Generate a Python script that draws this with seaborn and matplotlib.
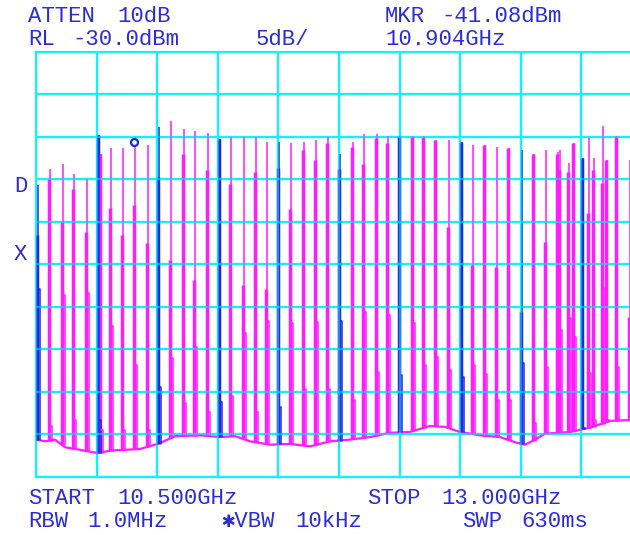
import numpy as np
import pandas as pd
import matplotlib
matplotlib.use("Agg")
import matplotlib.pyplot as plt
import seaborn as sns

start_ghz, stop_ghz = 10.5, 13.0
ref_level_dbm, db_per_div = -30.0, 5.0
mkr_ghz, mkr_dbm = 10.904, -41.08

# noise floor of the trace
floor_ghz = [10.500, 10.537, 10.578, 10.620, 10.682, 10.756, 10.805, 10.867, 10.929,
             10.991, 11.012, 11.073, 11.177, 11.259, 11.321, 11.383, 11.465, 11.548,
             11.630, 11.713, 11.795, 11.878, 11.960, 12.043, 12.125, 12.187, 12.249,
             12.332, 12.414, 12.476, 12.517, 12.559, 12.600, 12.703, 12.785, 12.868,
             12.950, 13.000]
floor_dbm = [-75.6, -75.8, -75.6, -76.5, -76.8, -77.2, -76.9, -76.8, -76.7,
             -76.2, -76.0, -75.2, -75.1, -75.3, -75.2, -75.8, -76.2, -76.1,
             -76.4, -75.8, -75.6, -75.3, -74.8, -74.7, -74.0, -74.1, -74.7,
             -75.1, -75.3, -75.9, -76.2, -75.6, -74.9, -74.7, -74.2, -73.4,
             -73.3, -73.3]

# comb lines
spike_ghz = [10.504, 10.554, 10.607, 10.653, 10.706, 10.756, 10.764, 10.805, 10.855, 10.904,
             10.958, 11.003, 11.053, 11.106, 11.152, 11.205, 11.255, 11.300, 11.354, 11.403,
             11.449, 11.498, 11.548, 11.601, 11.651, 11.700, 11.750, 11.804, 11.849, 11.903,
             11.948, 11.998, 12.051, 12.097, 12.146, 12.200, 12.253, 12.299, 12.348, 12.398,
             12.447, 12.501, 12.550, 12.600, 12.649, 12.658, 12.695, 12.715, 12.752, 12.777,
             12.798, 12.835, 12.852, 12.893, 12.946]
peak_dbm = [-45.6, -43.8, -43.2, -44.4, -44.9, -39.8, -42.0, -41.3, -41.3, -41.08,
            -40.9, -38.8, -38.1, -39.1, -39.3, -39.5, -40.2, -40.0, -40.0, -40.0,
            -40.6, -40.6, -40.7, -40.6, -40.4, -40.0, -42.0, -40.6, -39.6, -39.6,
            -39.9, -39.9, -39.9, -39.9, -40.4, -40.4, -40.6, -40.9, -40.9, -41.2,
            -41.3, -41.5, -42.0, -41.5, -41.8, -41.5, -43.1, -40.7, -42.5, -40.1,
            -42.5, -38.7, -42.7, -39.9, -42.7]
bar_dbm = [-51.5, -44.9, -49.9, -46.1, -51.2, -39.8, -42.0, -48.4, -51.5, -48.0,
           -52.5, -44.7, -54.5, -42.0, -56.8, -43.9, -40.2, -45.5, -57.4, -44.1,
           -57.9, -43.6, -48.5, -41.5, -42.7, -40.7, -43.8, -41.2, -43.2, -40.1,
           -40.7, -39.9, -39.9, -40.0, -40.4, -50.6, -40.6, -55.1, -40.9, -55.3,
           -41.3, -60.6, -42.0, -52.4, -42.0, -43.9, -44.1, -40.7, -42.5, -48.9,
           -43.9, -45.4, -42.7, -39.9, -61.2]
shoulder_dbm = [-57.9, -74.0, -58.6, -73.3, -58.4, -73.3, -74.5, -62.2, -74.5, -66.8,
                -74.5, -69.4, -66.0, -71.3, -64.7, -72.4, -71.2, -70.5, -63.1, -72.4,
                -61.6, -71.8, -61.9, -69.6, -61.8, -69.6, -61.6, -70.9, -60.6, -67.6,
                -60.9, -68.0, -61.9, -66.8, -65.9, -67.4, -68.2, -66.8, -67.9, -70.9,
                -70.9, -66.6, -73.6, -67.1, -63.9, -62.7, -61.3, -63.5, -74.2, -67.8,
                -73.3, -57.8, -73.3, -67.1, -73.3]

# screen annotations: (text, left px, baseline px)
labels = [("ATTEN", 28, 22), ("10dB", 117, 22), ("MKR", 385, 22), ("-41.08dBm", 441, 22),
          ("RL", 28, 45), ("-30.0dBm", 72, 45), ("5dB/", 256, 45), ("10.904GHz", 385, 45),
          ("START", 28, 504), ("10.500GHz", 117, 504), ("STOP", 367, 504), ("13.000GHz", 441, 504),
          ("RBW", 28, 527), ("1.0MHz", 87, 527), ("\u2731VBW", 221, 527), ("10kHz", 295, 527),
          ("SWP", 462, 527), ("630ms", 521, 527),
          ("D", 14, 192), ("X", 14, 260)]

# ---------------- style ----------------
CYAN = "#14f0ff"
MAG = "#ff1cff"
BLUE = "#2424e6"
TXT = "#2b2bd9"

sns.set_theme(style="white")
plt.rcParams['font.family'] = ['Liberation Mono', 'DejaVu Sans Mono', 'DejaVu Sans']

fig = plt.figure(figsize=(6.3, 5.35), dpi=100)
fig.patch.set_facecolor("white")
ax = fig.add_axes([36 / 630, 58 / 535, 606 / 630, 425 / 535])
ax.set_facecolor("white")

y_bottom = ref_level_dbm - 10 * db_per_div
ax.set_xlim(start_ghz, stop_ghz)
ax.set_ylim(y_bottom, ref_level_dbm)
gx = np.linspace(start_ghz, stop_ghz, 11)
gy = np.linspace(y_bottom, ref_level_dbm, 11)
ax.set_xticks(gx)
ax.set_yticks(gy)
ax.set_xticklabels([])
ax.set_yticklabels([])
ax.tick_params(length=0)
ax.set_axisbelow(True)
ax.grid(True, color=CYAN, lw=1.6)
for s in ax.spines.values():
    s.set_color(CYAN)
    s.set_linewidth(1.6)

# trace: noise floor
sns.lineplot(x=floor_ghz, y=floor_dbm, color=MAG, lw=1.6, ax=ax,
             sort=False, estimator=None, zorder=3)

sx = np.array(spike_ghz)
base = np.interp(sx, floor_ghz, floor_dbm)
on_grid = np.min(np.abs(sx[:, None] - gx[None, :]), axis=1) < 0.007
cols = [BLUE if g else MAG for g in on_grid]

ax.vlines(sx, base, bar_dbm, colors=cols, lw=2.5, zorder=3)
ax.vlines(sx + 0.0045, base, peak_dbm, colors=cols, lw=1.1, zorder=3)
sh = np.maximum(np.array(shoulder_dbm), base)
w = 0.013
for x0, s0, b0, c in zip(sx, sh, base, cols):
    ax.plot([x0 + 0.0045, x0 + w, x0 + w], [s0, s0, b0], color=c, lw=1.1, zorder=3)

# graticule overlay to mimic the blue crossing of trace and graticule
for v in gx:
    ax.axvline(v, color=CYAN, lw=1.6, alpha=0.5, zorder=4)
for v in gy:
    ax.axhline(v, color=CYAN, lw=1.6, alpha=0.5, zorder=4)

# marker
ax.plot([mkr_ghz], [mkr_dbm + 0.5], marker='o', mfc='none', mec=BLUE, ms=5,
        mew=1.6, zorder=6, clip_on=False)

# ---------------- annotations ----------------
for s, x, y in labels:
    fig.text(x / 630, 1 - y / 535, s, color=TXT, fontsize=16, va='baseline', ha='left')

fig.savefig("out.png", dpi=100, facecolor="white")
